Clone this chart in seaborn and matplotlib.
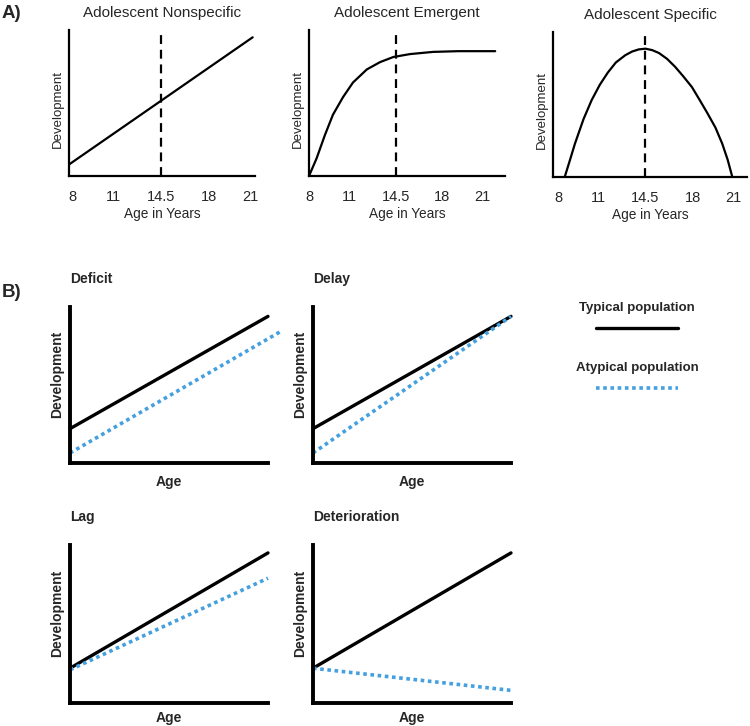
import numpy as np
import pandas as pd
import matplotlib
matplotlib.use("Agg")
import matplotlib.pyplot as plt
import seaborn as sns

# panel A data
age_ticks = [8, 11, 14.5, 18, 21]
peak_age = 14.5
nonspec_age = [7.8, 21.2]
nonspec_dev = [0.08, 0.95]
emergent_age = [7.93, 8.5, 9.13, 9.74, 10.5, 11.25, 12.3, 13.3, 14.3, 15.56, 17.3, 19.2, 22.0]
emergent_dev = [0.0, 0.12, 0.28, 0.42, 0.54, 0.64, 0.73, 0.78, 0.815, 0.835, 0.85, 0.855, 0.855]
specific_age = [8.5, 8.9, 9.26, 9.9, 10.5, 11.1, 11.7, 12.3, 13.0, 13.5, 14.0, 14.5, 15.0, 15.5, 16.1, 16.7, 17.3, 17.95, 18.5, 19.1, 19.7, 20.2, 20.6, 20.95]
specific_dev = [0.0, 0.12, 0.23, 0.40, 0.53, 0.635, 0.72, 0.79, 0.84, 0.865, 0.88, 0.885, 0.875, 0.855, 0.815, 0.76, 0.695, 0.62, 0.535, 0.44, 0.34, 0.23, 0.12, 0.0]

# panel B data (age and development on 0-1 scale)
b_titles = ["Deficit", "Delay", "Lag", "Deterioration"]
typ_age = [[0, 1], [0, 1], [0, 1], [0, 1]]
typ_dev = [[0.22, 0.94], [0.22, 0.94], [0.22, 0.95], [0.22, 0.95]]
atyp_age = [[0, 1.06], [0, 1], [0, 1], [0, 1]]
atyp_dev = [[0.064, 0.84], [0.064, 0.94], [0.21, 0.79], [0.22, 0.08]]

blue = "#45a0e0"

sns.set_style("white")
plt.rcParams['font.family'] = ['Liberation Sans', 'DejaVu Sans']

W, H = 750, 726
fig = plt.figure(figsize=(7.5, 7.26), dpi=100)


def px_axes(l, t, r, b):
    return fig.add_axes([l / W, 1 - b / H, (r - l) / W, (b - t) / H])


# ---- A ----
a_boxes = [(69, 30, 255, 176), (309, 30, 505, 176), (553, 32, 747, 177)]
a_xlims = [(7.78, 21.37), (7.93, 22.74), (7.63, 22.04)]
a_titles = ["Adolescent Nonspecific", "Adolescent Emergent", "Adolescent Specific"]
a_curves = [(nonspec_age, nonspec_dev), (emergent_age, emergent_dev), (specific_age, specific_dev)]

for box, xl, title, (xs, ys) in zip(a_boxes, a_xlims, a_titles, a_curves):
    ax = px_axes(*box)
    sns.lineplot(x=xs, y=ys, ax=ax, color="black", linewidth=1.6, clip_on=False)
    ax.plot([peak_age, peak_age], [0, 1.0], color="black", linewidth=1.6,
            linestyle=(0, (4, 2.6)), clip_on=False)
    ax.set_xlim(*xl)
    ax.set_ylim(0, 1)
    ax.set_xticks(age_ticks)
    ax.set_xticklabels([f"{a:g}" for a in age_ticks])
    ax.set_yticks([])
    ax.tick_params(axis="x", length=0, pad=10, labelsize=10.5)
    sns.despine(ax=ax)
    for s in ["left", "bottom"]:
        ax.spines[s].set_linewidth(1.6)
        ax.spines[s].set_color("black")
    ax.set_xlabel("Age in Years", fontsize=9.8, labelpad=2)
    ax.set_ylabel("Development", fontsize=9.5, labelpad=4)
    ax.yaxis.label.set_y(0.46)
    ax.set_title(title, fontsize=11, pad=9)

fig.text(2 / W, 1 - 13 / H, "A)", fontsize=13.5, fontweight="bold", va="center", ha="left")

# ---- B ----
b_boxes = [(70, 307, 268, 463), (313, 307, 511, 463), (70, 545, 268, 703), (313, 545, 511, 703)]
for i, box in enumerate(b_boxes):
    ax = px_axes(*box)
    sns.lineplot(x=typ_age[i], y=typ_dev[i], ax=ax, color="black", linewidth=2.4, clip_on=False)
    sns.lineplot(x=atyp_age[i], y=atyp_dev[i], ax=ax, color=blue, linewidth=2.6,
                 linestyle=(0, (1, 1)), clip_on=False)
    ax.set_xlim(0, 1)
    ax.set_ylim(0, 1)
    ax.set_xticks([])
    ax.set_yticks([])
    sns.despine(ax=ax)
    for s in ["left", "bottom"]:
        ax.spines[s].set_linewidth(2.8)
        ax.spines[s].set_color("black")
    ax.set_xlabel("Age", fontsize=10, fontweight="bold", labelpad=9 if i < 2 else 5.5)
    ax.set_ylabel("Development", fontsize=10, fontweight="bold", labelpad=4)
    ax.yaxis.label.set_y(0.565)
    ax.set_title(b_titles[i], loc="left", fontsize=10, fontweight="bold", pad=17)

fig.text(2 / W, 1 - 292 / H, "B)", fontsize=13.5, fontweight="bold", va="center", ha="left")

# legend
lg = px_axes(560, 290, 720, 400)
lg.set_xlim(0, 160)
lg.set_ylim(110, 0)
lg.axis("off")
lg.text(77, 18, "Typical population", fontsize=9.5, fontweight="bold", ha="center", va="center")
lg.plot([36, 118], [38, 38], color="black", linewidth=2.4)
lg.text(77, 78, "Atypical population", fontsize=9.5, fontweight="bold", ha="center", va="center")
lg.plot([36, 118], [98, 98], color=blue, linewidth=2.6, linestyle=(0, (1, 1)))

fig.savefig("out.png", dpi=100)
